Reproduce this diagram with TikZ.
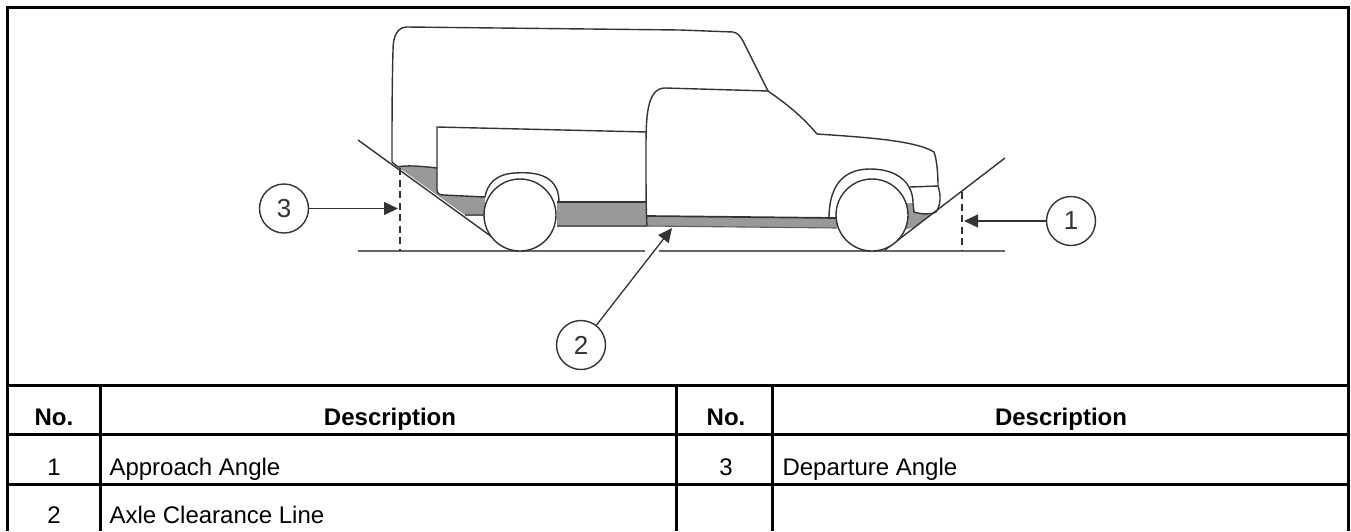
\documentclass[tikz,border=0pt]{standalone}
\usepackage{fontspec}
\setmainfont{Liberation Sans}
\usetikzlibrary{arrows.meta}
\definecolor{ink}{HTML}{333333}
\definecolor{shade}{HTML}{999999}
\tikzset{
  x=1pt,y=-1pt,
  rule/.style={line width=3pt,black},
  body/.style={line width=1.4pt,draw=ink,line join=round},
  soft/.style={line width=1.1pt,draw=ink!80,line join=round},
  groundline/.style={line width=1.6pt,draw=ink!75},
  shadefill/.style={fill=shade,draw=none},
  wheel/.style={body,fill=white},
  callout/.style={circle,draw=ink,line width=1.4pt,fill=white,minimum size=49pt,inner sep=0pt,font=\fontsize{26}{30}\selectfont,text=ink},
  leader/.style={line width=1.3pt,draw=ink,-{Triangle[length=14pt,width=13pt]}},
  guide/.style={line width=1.3pt,draw=ink,dash pattern=on 7pt off 4.5pt},
  head/.style={font=\fontsize{24}{28}\selectfont\bfseries,anchor=center,text=black,text height=17pt,text depth=5pt},
  cell/.style={font=\fontsize{24}{28}\selectfont,anchor=center,text=black,text height=17pt,text depth=5pt},
  desc/.style={font=\fontsize{24}{28}\selectfont,anchor=west,text=black,text height=17pt,text depth=5pt}
}
\begin{document}
\begin{tikzpicture}
\useasboundingbox (0,0) rectangle (1351,531);
% table frame
\draw[rule] (7.5,531) -- (7.5,7) -- (1348,7) -- (1348,531);
\draw[rule] (7.5,385) -- (1348,385);
\draw[rule] (7.5,434) -- (1348,434);
\draw[rule] (7.5,484) -- (1348,484);
\draw[rule] (100,385) -- (100,531);
\draw[rule] (676,385) -- (676,531);
\draw[rule] (772,385) -- (772,531);
% table text
\node[head] (h1) at (54,419) {No.};
\node[head] (h2) at (390,419) {Description};
\node[head] (h3) at (726,419) {No.};
\node[head] (h4) at (1061,419) {Description};
\node[cell] (n1) at (54,469) {1};
\node[desc] (d1) at (106,469) {Approach Angle};
\node[cell] (n3) at (726,469) {3};
\node[desc] (d3) at (779,469) {Departure Angle};
\node[cell] (n2) at (54,517.5) {2};
\node[desc] (d2) at (106,517.5) {Axle Clearance Line};
% shaded areas
\fill[shadefill] (398,167) .. controls (405,165) and (420,166) .. (437,168) -- (437,190) .. controls (437,194) and (440,195) .. (444,195) -- (485,197) -- (485,215) -- (465,215) -- cycle;
\fill[shadefill] (557,202) -- (646,202) -- (648,226) -- (557,226) -- cycle;
\fill[shadefill] (647,216) -- (837,218) -- (837,228) -- (647,226) -- cycle;
\fill[shadefill] (904,203) -- (913,203) -- (914,212) .. controls (920,214) and (926,214) .. (931,215) -- (915,227) -- (904,230) -- cycle;
% camper
\draw[body] (392,162) .. controls (392,120) and (392,90) .. (393,50) .. controls (393,35) and (398,27) .. (407,27) -- (680,30) -- (733,32) .. controls (738,33) and (740,36) .. (743,41) -- (768,91);
\draw[body] (392,162) -- (398,167);
% bed
\draw[body] (647,132) -- (437,127) -- (437,190) .. controls (437,194) and (440,195) .. (444,195) -- (485,197);
\draw[body] (398,167) .. controls (405,165) and (420,166) .. (437,168);
% cab
\draw[body] (647,226) .. controls (646,210) and (646,190) .. (646,150) .. controls (646,120) and (646,88) .. (665,88) -- (768,91) .. controls (785,103) and (800,114) .. (817,134) .. controls (860,137) and (915,140) .. (934,152) .. controls (937,160) and (938,175) .. (938,186) .. controls (941,195) and (941,205) .. (936,212) .. controls (930,215) and (920,214) .. (914,212) -- (913,203);
\draw[body] (910,187) -- (938,186);
% sill lines
\draw[body,line width=1.7pt] (647,216) -- (837,218);
\draw[soft] (647,226) -- (837,228);
\draw[body,line width=1.7pt] (557,202) -- (646,202);
\draw[soft] (557,226) -- (647,226);
\draw[soft] (465,215) -- (485,215);
% arches
\draw[body] (485,197) .. controls (487,185) and (495,174) .. (515,173) .. controls (530,172) and (559,172) .. (559,202);
\draw[body] (829,218) .. controls (829,190) and (840,169) .. (870,169) .. controls (900,169) and (913,185) .. (913,203);
% ground and slopes
\draw[groundline] (358,251) -- (645,251);
\draw[groundline] (659,251) -- (1005,251);
\draw[body] (358,140) -- (510,250);
\draw[body] (885,250) -- (1005,158);
% wheels
\node[wheel,circle,minimum size=72pt,inner sep=0pt] (rw) at (520,215) {};
\node[wheel,circle,minimum size=72pt,inner sep=0pt] (fw) at (872,215) {};
% dashed guides
\coordinate (g3t) at (400,168);
\coordinate (g3b) at (400,251);
\coordinate (g1t) at (962,192);
\coordinate (g1b) at (962,251);
\draw[guide] (g3t) -- (g3b);
\draw[guide] (g1t) -- (g1b);
% callouts
\node[callout] (c3) at (284,208.5) {3};
\node[callout] (c1) at (1071,221) {1};
\node[callout] (c2) at (581,345) {2};
\coordinate (t3) at (398,208.5);
\coordinate (t1) at (964,221);
\coordinate (t2) at (672,228);
\draw[leader] (c3) -- (t3);
\draw[leader] (c1) -- (t1);
\draw[leader] (c2) -- (t2);
\end{tikzpicture}
\end{document}
